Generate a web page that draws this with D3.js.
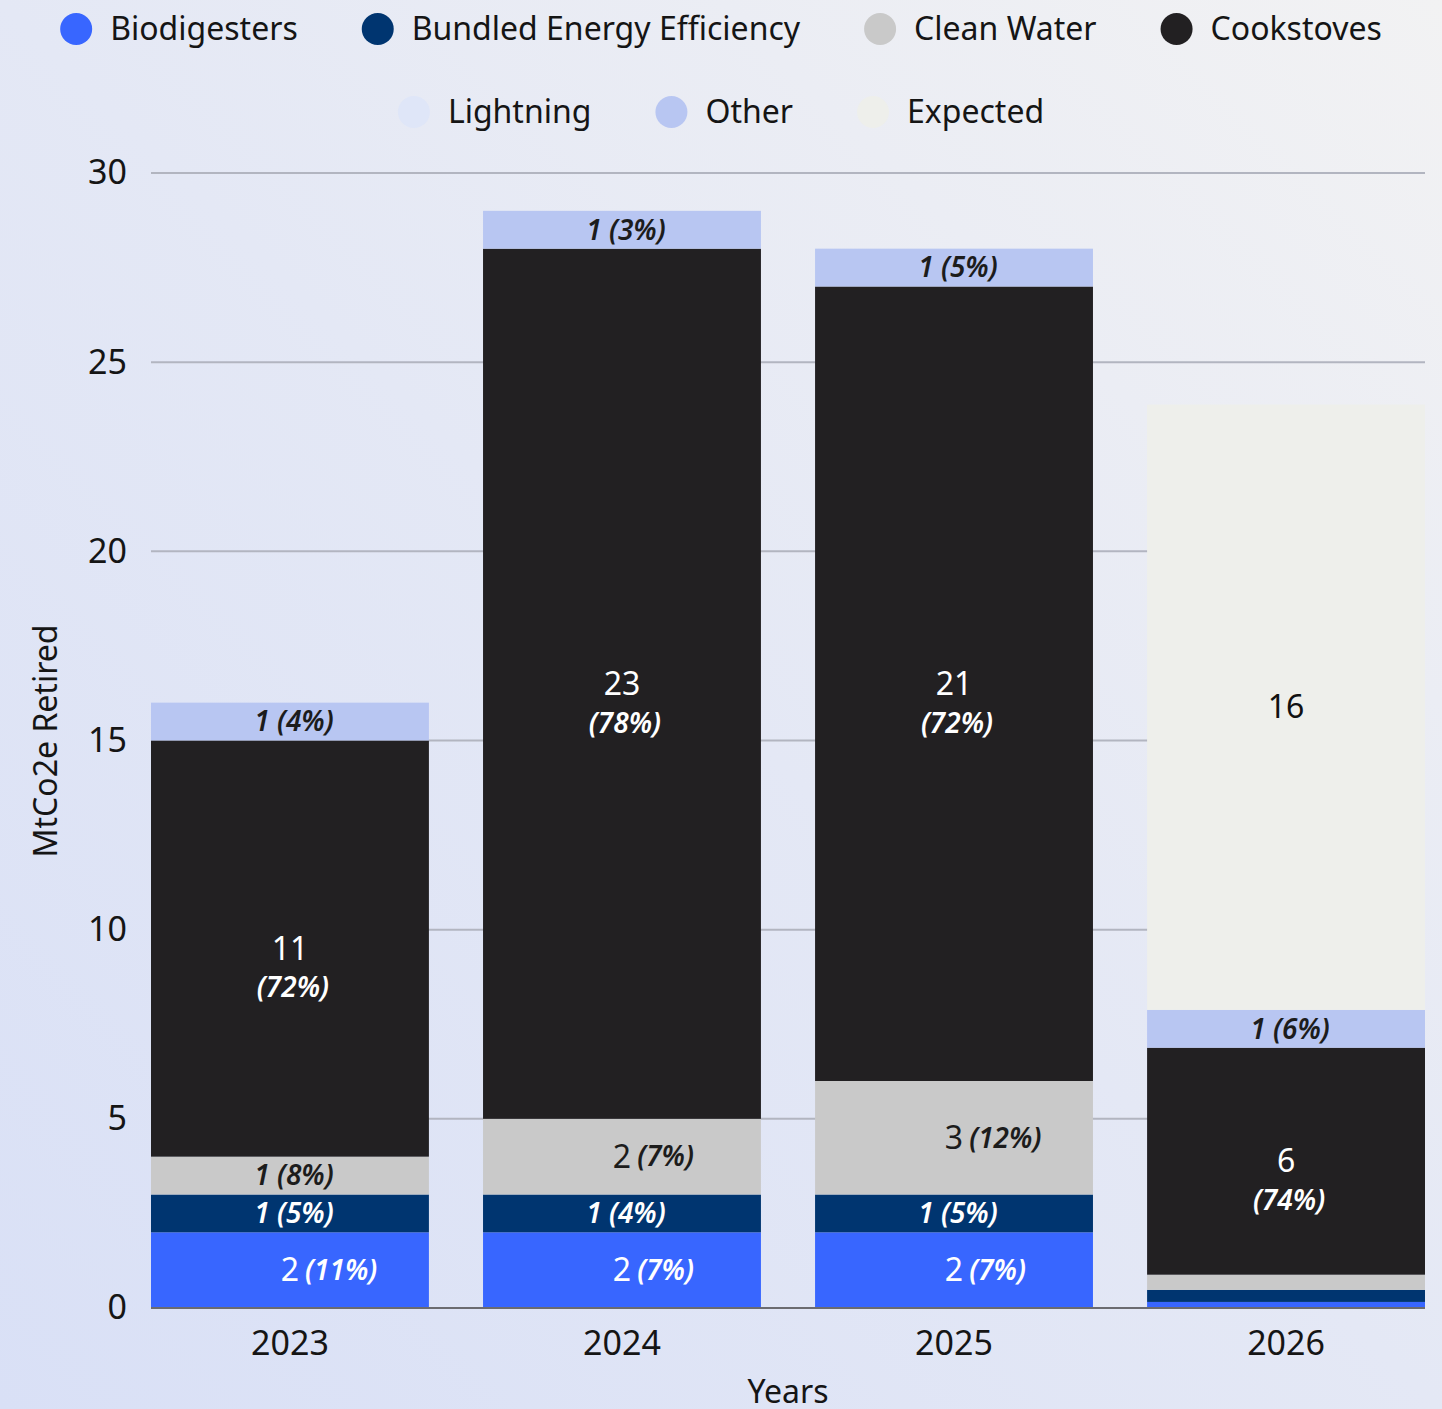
<!DOCTYPE html>
<html>
<head>
<meta charset="utf-8">
<script src="https://cdn.jsdelivr.net/npm/d3@7"></script>
<style>
  html, body { margin: 0; padding: 0; }
  body { width: 1442px; height: 1409px; overflow: hidden; }
  svg { display: block; font-family: "Noto Sans", "Open Sans", sans-serif; }
</style>
</head>
<body>
<svg id="chart" width="1442" height="1409"></svg>
<script>
// ---- data ----
const years = ["2023", "2024", "2025", "2026"];
const seriesNames = ["Biodigesters", "Bundled Energy Efficiency", "Clean Water", "Cookstoves", "Lightning", "Other", "Expected"];
const seriesColors = ["#3866ff", "#003570", "#c9c9c9", "#222022", "#dfe6f8", "#b8c6f2", "#eeefeb"];
const labelColors  = ["#ffffff", "#ffffff", "#1c1c1c", "#ffffff", "#1c1c1c", "#1c1c1c", "#111111"];

const biodigesters = [2, 2, 2, 0.16];
const bundledEnergy = [1, 1, 1, 0.32];
const cleanWater = [1, 2, 3, 0.4];
const cookstoves = [11, 23, 21, 6];
const lightning = [0, 0, 0, 0];
const other = [1, 1, 1, 1];
const expected = [0, 0, 0, 16];

const biodigestersPct = [11, 7, 7, null];
const bundledEnergyPct = [5, 4, 5, null];
const cleanWaterPct = [8, 7, 12, null];
const cookstovesPct = [72, 78, 72, 74];
const lightningPct = [null, null, null, null];
const otherPct = [4, 3, 5, 6];
const expectedPct = [null, null, null, null];

const yTicks = [0, 5, 10, 15, 20, 25, 30];
const yTitle = "MtCo2e Retired";
const xTitle = "Years";

// ---- setup ----
const seriesValues = [biodigesters, bundledEnergy, cleanWater, cookstoves, lightning, other, expected];
const seriesPct = [biodigestersPct, bundledEnergyPct, cleanWaterPct, cookstovesPct, lightningPct, otherPct, expectedPct];
const stackedLabelSeries = new Set(["Cookstoves", "Expected"]);

const W = 1442, H = 1409;
const svg = d3.select("#chart");

// background gradient
const defs = svg.append("defs");
const grad = defs.append("linearGradient").attr("id", "bg")
  .attr("x1", "0").attr("y1", "1").attr("x2", "1").attr("y2", "0");
grad.append("stop").attr("offset", "0%").attr("stop-color", "#d9e0f6");
grad.append("stop").attr("offset", "50%").attr("stop-color", "#e4e8f5");
grad.append("stop").attr("offset", "100%").attr("stop-color", "#f2f2f3");
svg.append("rect").attr("width", W).attr("height", H).attr("fill", "url(#bg)");

const x = d3.scaleBand().domain(years).range([151, 1425]).paddingInner(0.163).paddingOuter(0);
const y = d3.scaleLinear().domain([0, 30]).range([1308, 173]);

// gridlines
const grid = svg.append("g");
grid.selectAll("line").data(yTicks.filter(t => t !== 0)).join("line")
  .attr("x1", 151).attr("x2", 1425)
  .attr("y1", d => y(d)).attr("y2", d => y(d))
  .attr("stroke", "#b2b5c0").attr("stroke-width", 2);

// y axis
const yAxis = svg.append("g").attr("transform", "translate(151,0)")
  .call(d3.axisLeft(y).tickValues(yTicks).tickSize(0).tickPadding(24));
yAxis.select(".domain").remove();
yAxis.selectAll("text").attr("font-size", 34).attr("fill", "#151515")
  .attr("font-family", "Noto Sans");

// stack
const table = years.map((yr, i) => {
  const row = { year: yr };
  seriesNames.forEach((s, j) => row[s] = seriesValues[j][i]);
  return row;
});
const stack = d3.stack().keys(seriesNames)(table);

const barsG = svg.append("g");
stack.forEach((layer, j) => {
  barsG.append("g").attr("fill", seriesColors[j])
    .selectAll("rect").data(layer).join("rect")
    .attr("x", d => x(d.data.year))
    .attr("width", x.bandwidth())
    .attr("y", d => y(d[1]))
    .attr("height", d => Math.max(0, y(d[0]) - y(d[1])));
});

// baseline
svg.append("line").attr("x1", 151).attr("x2", 1425)
  .attr("y1", y(0)).attr("y2", y(0))
  .attr("stroke", "#6b6b70").attr("stroke-width", 2);

// x axis
const xAxis = svg.append("g").attr("transform", `translate(0,${y(0)})`)
  .call(d3.axisBottom(x).tickSize(0).tickPadding(23));
xAxis.select(".domain").remove();
xAxis.selectAll("text").attr("font-size", 34).attr("fill", "#151515")
  .attr("font-family", "Noto Sans");

// axis titles
svg.append("text").attr("x", 788).attr("y", 1403)
  .attr("text-anchor", "middle").attr("font-size", 32).attr("fill", "#151515")
  .text(xTitle);
svg.append("text").attr("transform", "translate(46,741) rotate(-90)")
  .attr("dy", "0.35em").attr("text-anchor", "middle").attr("font-size", 32)
  .attr("fill", "#151515").text(yTitle);

// segment labels
const labelsG = svg.append("g");
stack.forEach((layer, j) => {
  const name = seriesNames[j];
  layer.forEach((d, i) => {
    const v = seriesValues[j][i];
    const h = y(d[0]) - y(d[1]);
    if (!v || h < 20) return;
    const pct = seriesPct[j][i];
    const cx = x(d.data.year) + x.bandwidth() / 2;
    const cy = (y(d[0]) + y(d[1])) / 2;
    const col = labelColors[j];
    const valStr = d3.format("d")(Math.round(v));
    if (stackedLabelSeries.has(name)) {
      labelsG.append("text").attr("x", cx).attr("y", cy).attr("dy", "0.35em")
        .attr("text-anchor", "middle").attr("font-size", 32).attr("fill", col).text(valStr);
      if (pct != null) {
        labelsG.append("text").attr("x", cx + 3).attr("y", cy + 39).attr("dy", "0.35em")
          .attr("text-anchor", "middle").attr("font-size", 28).attr("font-weight", 600)
          .attr("font-style", "italic").attr("fill", col).text(`(${pct}%)`);
      }
    } else if (v >= 2) {
      const vt = labelsG.append("text").attr("x", cx).attr("y", cy).attr("dy", "0.35em")
        .attr("text-anchor", "middle").attr("font-size", 32).attr("fill", col).text(valStr);
      const w = vt.node().getComputedTextLength();
      if (pct != null) {
        labelsG.append("text").attr("x", cx + w / 2 + 6).attr("y", cy).attr("dy", "0.35em")
          .attr("text-anchor", "start").attr("font-size", 28).attr("font-weight", 600)
          .attr("font-style", "italic").attr("fill", col).text(`(${pct}%)`);
      }
    } else {
      const t = labelsG.append("text").attr("x", cx + 4).attr("y", cy).attr("dy", "0.35em")
        .attr("text-anchor", "middle").attr("font-size", 28).attr("font-weight", 600)
        .attr("font-style", "italic").attr("fill", col);
      t.append("tspan").text(valStr + " ");
      if (pct != null) t.append("tspan").text(`(${pct}%)`);
    }
  });
});

// legend
const legendG = svg.append("g");
const legendFont = 32, rCircle = 16, circleGap = 34, itemGap = 64, maxRow = 1380;
const items = seriesNames.map((s, j) => {
  const t = legendG.append("text").attr("font-size", legendFont).attr("fill", "#151515")
    .attr("dy", "0.35em").text(s);
  return { name: s, color: seriesColors[j], node: t };
});
items.forEach(it => it.width = rCircle + circleGap + it.node.node().getComputedTextLength());
const rows = [];
let cur = [], curW = 0;
items.forEach(it => {
  const add = (cur.length ? itemGap : 0) + it.width;
  if (cur.length && curW + add > maxRow) { rows.push(cur); cur = []; curW = 0; }
  curW += (cur.length ? itemGap : 0) + it.width;
  cur.push(it);
});
if (cur.length) rows.push(cur);
const rowY = [29, 112];
rows.forEach((row, ri) => {
  const total = d3.sum(row, r => r.width) + itemGap * (row.length - 1);
  let xx = W / 2 - total / 2;
  row.forEach(it => {
    legendG.append("circle").attr("cx", xx + rCircle).attr("cy", rowY[ri]).attr("r", rCircle)
      .attr("fill", it.color);
    it.node.attr("x", xx + rCircle + circleGap).attr("y", rowY[ri]);
    xx += it.width + itemGap;
  });
});
</script>
</body>
</html>
